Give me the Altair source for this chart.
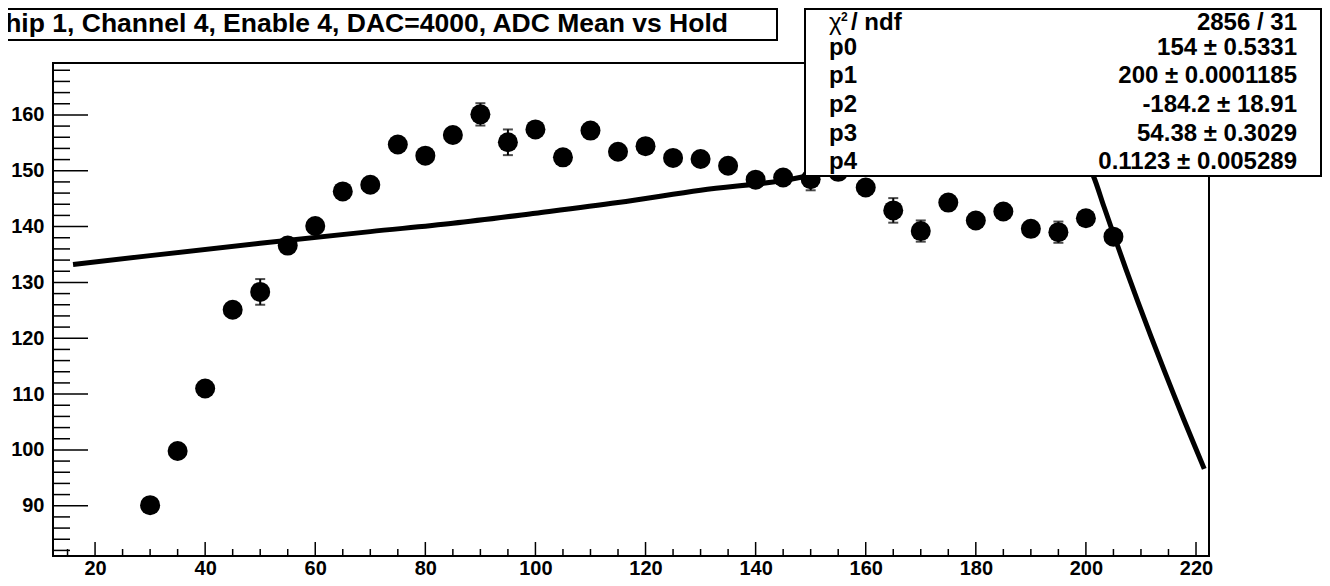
import altair as alt
import pandas as pd

# ---------------- data ----------------
hold = [30, 35, 40, 45, 50, 55, 60, 65, 70, 75, 80, 85, 90, 95, 100, 105, 110, 115,
        120, 125, 130, 135, 140, 145, 150, 155, 160, 165, 170, 175, 180, 185, 190, 195, 200, 205]
adc_mean = [90.1, 99.8, 111.0, 125.1, 128.3, 136.6, 140.1, 146.3, 147.5, 154.7, 152.7, 156.4,
            160.1, 155.1, 157.4, 152.4, 157.2, 153.4, 154.4, 152.3, 152.1, 150.9, 148.4, 148.8,
            148.5, 149.8, 147.0, 142.9, 139.2, 144.3, 141.1, 142.7, 139.6, 139.0, 141.5, 138.2]
adc_err = [1.0, 1.0, 1.0, 1.0, 2.3, 1.0, 1.0, 1.0, 1.0, 1.0, 1.0, 1.0,
           2.0, 2.3, 1.0, 1.0, 1.0, 1.0, 1.0, 1.0, 1.0, 1.0, 1.0, 1.0,
           2.0, 1.0, 1.0, 2.2, 1.9, 1.0, 1.0, 1.0, 1.0, 1.9, 1.0, 1.0]

fit_hold = [16.0, 30, 50, 70, 85, 100, 115, 130, 148, 155, 165, 178, 188, 195, 199.5,
            201.5, 203.3, 205.1, 207.3, 209.5, 211.8, 214.2, 216.0, 217.8, 219.6, 221.5]
fit_adc = [133.2, 134.8, 137.0, 139.1, 140.6, 142.4, 144.3, 146.5, 148.8, 150.5, 153.0, 157.0,
           159.0, 157.0, 153.0, 148.7, 143.5, 138.4, 132.3, 126.4, 120.4, 114.3, 109.8, 105.4,
           101.1, 96.6]

x_major = [20, 40, 60, 80, 100, 120, 140, 160, 180, 200, 220]
x_minor = [15, 25, 30, 35, 45, 50, 55, 65, 70, 75, 85, 90, 95, 105, 110, 115, 125, 130, 135,
           145, 150, 155, 165, 170, 175, 185, 190, 195, 205, 210, 215]
y_major = [90, 100, 110, 120, 130, 140, 150, 160]
y_minor = [82, 84, 86, 88, 92, 94, 96, 98, 102, 104, 106, 108, 112, 114, 116, 118, 122, 124,
           126, 128, 132, 134, 136, 138, 142, 144, 146, 148, 152, 154, 156, 158, 162, 164, 166, 168]

title_text = "Chip 1, Channel 4, Enable 4, DAC=4000, ADC Mean vs Hold"
stat_labels = ["p0", "p1", "p2", "p3", "p4"]
stat_values = ["2856 / 31", "154 \u00b1 0.5331", "200 \u00b1 0.0001185", "-184.2 \u00b1 18.91",
               "54.38 \u00b1 0.3029", "0.1123 \u00b1 0.005289"]

# ---------------- layout ----------------
X_DOMAIN = [12.36, 222.36]
Y_DOMAIN = [81.0, 169.3]
W, H = 1156, 493
FONT = "Liberation Sans"

xs = alt.Scale(domain=X_DOMAIN, nice=False, zero=False)
ys = alt.Scale(domain=Y_DOMAIN, nice=False, zero=False)
xaxis = alt.Axis(values=x_major, ticks=False, domain=False, grid=False, title=None,
                 labelFontSize=20, labelFontWeight="bold", labelFont=FONT, labelColor="black",
                 labelPadding=2, labelFlush=False)
yaxis = alt.Axis(values=y_major, ticks=False, domain=False, grid=False, title=None,
                 labelFontSize=20, labelFontWeight="bold", labelFont=FONT, labelColor="black",
                 labelPadding=9, labelFlush=False)


def X(f):
    return alt.X(f, type="quantitative", scale=xs, axis=xaxis)


def Y(f):
    return alt.Y(f, type="quantitative", scale=ys, axis=yaxis)


pts = pd.DataFrame({"x": hold, "y": adc_mean, "e": adc_err})
pts["lo"] = pts["y"] - pts["e"]
pts["hi"] = pts["y"] + pts["e"]
fit = pd.DataFrame({"x": fit_hold, "y": fit_adc})

layers = []

# ticks (inward, ROOT style)
xmaj = pd.DataFrame({"x": x_major})
xmin = pd.DataFrame({"x": x_minor})
ymaj = pd.DataFrame({"y": y_major})
ymin = pd.DataFrame({"y": y_minor})
layers.append(alt.Chart(xmaj).mark_rule(color="black", strokeWidth=1.5).encode(
    x=X("x"), y=alt.value(H), y2=alt.value(H - 14)))
layers.append(alt.Chart(xmin).mark_rule(color="black", strokeWidth=1.5).encode(
    x=X("x"), y=alt.value(H), y2=alt.value(H - 7)))
layers.append(alt.Chart(ymaj).mark_rule(color="black", strokeWidth=1.5).encode(
    y=Y("y"), x=alt.value(0), x2=alt.value(35)))
layers.append(alt.Chart(ymin).mark_rule(color="black", strokeWidth=1.5).encode(
    y=Y("y"), x=alt.value(0), x2=alt.value(17)))

# fit curve
layers.append(alt.Chart(fit).mark_line(color="black", strokeWidth=5, clip=True,
                                       interpolate="monotone").encode(x=X("x"), y=Y("y")))

# error bars
layers.append(alt.Chart(pts).mark_rule(color="black", strokeWidth=2, clip=True).encode(
    x=X("x"), y=Y("lo"), y2="hi"))
layers.append(alt.Chart(pts).mark_tick(color="black", orient="horizontal", size=10,
                                       thickness=2, clip=True).encode(x=X("x"), y=Y("lo")))
layers.append(alt.Chart(pts).mark_tick(color="black", orient="horizontal", size=10,
                                       thickness=2, clip=True).encode(x=X("x"), y=Y("hi")))
# markers
layers.append(alt.Chart(pts).mark_circle(color="black", opacity=1, size=400, clip=True).encode(
    x=X("x"), y=Y("y")))

one = pd.DataFrame({"k": [0]})

# title box
layers.append(alt.Chart(one).mark_rect(fill="white", stroke="black", strokeWidth=2, clip=False).encode(
    x=alt.value(-70), x2=alt.value(724), y=alt.value(-54), y2=alt.value(-23)))
layers.append(alt.Chart(one).mark_text(font=FONT, fontSize=26.5, fontWeight="bold", align="right",
                                       baseline="alphabetic", color="black", clip=False).encode(
    x=alt.value(675), y=alt.value(-31), text=alt.value(title_text)))

# stats box
layers.append(alt.Chart(one).mark_rect(fill="white", stroke="black", strokeWidth=2, clip=False).encode(
    x=alt.value(752), x2=alt.value(1268), y=alt.value(-54), y2=alt.value(113)))

row_base = [-33.0, -8.5, 20.2, 48.8, 77.5, 106.2]
STAT_FS = 24
# chi2 / ndf label
layers.append(alt.Chart(one).mark_text(font=FONT, fontSize=STAT_FS, align="left", baseline="alphabetic",
                                       color="black", clip=False).encode(
    x=alt.value(776), y=alt.value(row_base[0]), text=alt.value("\u03c7")))
layers.append(alt.Chart(one).mark_text(font=FONT, fontSize=12, fontWeight="bold", align="left",
                                       baseline="alphabetic", color="black", clip=False).encode(
    x=alt.value(788), y=alt.value(row_base[0] - 9), text=alt.value("2")))
layers.append(alt.Chart(one).mark_text(font=FONT, fontSize=STAT_FS, fontWeight="bold", align="left",
                                       baseline="alphabetic", color="black", clip=False).encode(
    x=alt.value(798), y=alt.value(row_base[0]), text=alt.value("/ ndf")))
for i, lab in enumerate(stat_labels):
    layers.append(alt.Chart(one).mark_text(font=FONT, fontSize=STAT_FS, fontWeight="bold", align="left",
                                           baseline="alphabetic", color="black", clip=False).encode(
        x=alt.value(776), y=alt.value(row_base[i + 1]), text=alt.value(lab)))
for i, val in enumerate(stat_values):
    layers.append(alt.Chart(one).mark_text(font=FONT, fontSize=STAT_FS, fontWeight="bold", align="right",
                                           baseline="alphabetic", color="black", clip=False).encode(
        x=alt.value(1244), y=alt.value(row_base[i]), text=alt.value(val)))

chart = alt.layer(*layers).properties(
    width=W, height=H,
    padding={"left": 45, "top": 55, "right": 113, "bottom": 22},
    autosize=alt.AutoSizeParams(type="none"),
    background="white",
).configure_view(stroke="black", strokeWidth=2)

chart.save("out.html", embed_options={"renderer": "svg", "actions": False})
